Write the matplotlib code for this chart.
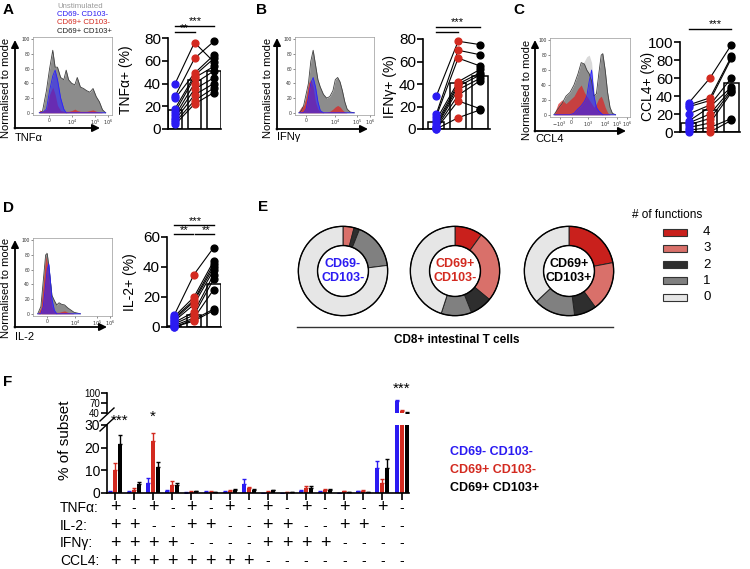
import numpy as np
import matplotlib
matplotlib.use('Agg')
import matplotlib.pyplot as plt
from matplotlib.patches import Rectangle

plt.rcParams['font.family'] = ['Liberation Sans', 'DejaVu Sans']

BLUE = '#2b1bf2'
RED = '#d32a20'
W, H = 750, 569

# ---- panels A-D: paired donor values (blue, red, black) and bar heights
tnf_blue = [40, 29, 27, 18, 15, 12, 10, 8, 6, 4]
tnf_red = [76, 62, 49, 47, 45, 40, 35, 30, 25, 22]
tnf_black = [59, 77, 65, 62, 55, 51, 45, 40, 36, 32]
tnf_bars = [17, 43, 51]

ifn_blue = [29, 13, 11, 8, 5, 3, 2, 1, 0, 0]
ifn_red = [78, 70, 63, 42, 40, 38, 35, 30, 25, 10]
ifn_black = [75, 66, 56, 53, 50, 48, 45, 43, 18, 17]
ifn_bars = [6, 41, 47]

ccl4_blue = [32, 30, 28, 20, 12, 10, 8, 5, 2, 0]
ccl4_red = [60, 38, 35, 30, 28, 20, 15, 10, 5, 0]
ccl4_black = [97, 84, 82, 60, 50, 48, 46, 44, 15, 13]
ccl4_bars = [10, 25, 54]

il2_blue = [8, 7, 6, 5, 4, 3, 2, 1, 0, 0]
il2_red = [35, 20, 18, 17, 15, 10, 8, 6, 5, 4]
il2_black = [53, 44, 42, 40, 38, 35, 32, 25, 12, 11]
il2_bars = [1, 8, 29]

# ---- flow histograms (x as fraction of plot width, y = % of mode)
tnf_hx = [0.08, 0.12, 0.17, 0.21, 0.25, 0.28, 0.31, 0.35, 0.39, 0.42, 0.45, 0.49,
          0.53, 0.56, 0.6, 0.64, 0.68, 0.72, 0.76, 0.8, 0.84, 0.88, 0.92]
tnf_unst = [0, 2, 10, 40, 60, 55, 35, 15, 5, 2, 0, 0, 0, 0, 0, 0, 0, 0, 0, 0, 0, 0, 0]
tnf_gray = [0, 2, 30, 60, 85, 62, 62, 48, 45, 58, 45, 40, 38, 48, 35, 33, 30, 28, 33, 22, 15, 4, 0]
tnf_redh = [4, 2, 5, 25, 35, 25, 10, 3, 2, 2, 2, 3, 5, 3, 2, 2, 2, 3, 4, 2, 1, 0, 0]
tnf_blueh = [0, 0, 5, 30, 50, 58, 45, 20, 5, 0, 0, 0, 0, 0, 0, 0, 0, 0, 0, 0, 0, 0, 0]

ifn_hx = [0.05, 0.08, 0.11, 0.14, 0.17, 0.2, 0.23, 0.26, 0.29, 0.32, 0.36, 0.4,
          0.44, 0.48, 0.51, 0.54, 0.57, 0.6, 0.63, 0.66, 0.7, 0.75]
ifn_unst = [0, 2, 5, 15, 35, 50, 45, 25, 8, 2, 0, 0, 0, 0, 0, 0, 0, 0, 0, 0, 0, 0]
ifn_gray = [0, 3, 10, 25, 40, 70, 85, 65, 45, 35, 25, 20, 22, 30, 45, 48, 42, 30, 15, 5, 1, 0]
ifn_redh = [3, 8, 10, 20, 40, 45, 35, 15, 5, 2, 1, 1, 2, 5, 8, 10, 8, 4, 1, 0, 0, 0]
ifn_blueh = [0, 0, 0, 5, 20, 40, 48, 35, 15, 3, 0, 0, 0, 0, 0, 0, 0, 0, 0, 0, 0, 0]

ccl4_hx = [0.05, 0.1, 0.15, 0.2, 0.25, 0.3, 0.35, 0.39, 0.43, 0.46, 0.49, 0.52,
           0.55, 0.58, 0.61, 0.64, 0.66, 0.69, 0.72, 0.75, 0.78, 0.82]
ccl4_unst = [0, 5, 12, 22, 28, 38, 50, 65, 72, 78, 80, 70, 35, 20, 10, 5, 3, 2, 0, 0, 0, 0]
ccl4_gray = [0, 8, 15, 25, 30, 40, 55, 70, 68, 60, 55, 45, 25, 28, 55, 80, 82, 60, 30, 10, 2, 0]
ccl4_redh = [0, 15, 20, 15, 20, 25, 35, 40, 30, 25, 20, 15, 10, 15, 22, 25, 20, 10, 3, 0, 0, 0]
ccl4_blueh = [0, 0, 0, 0, 0, 2, 8, 12, 18, 25, 45, 60, 25, 10, 5, 2, 0, 0, 0, 0, 0, 0]

il2_hx = [0.06, 0.1, 0.13, 0.16, 0.18, 0.2, 0.22, 0.24, 0.27, 0.3, 0.33, 0.36,
          0.4, 0.44, 0.48, 0.52, 0.56, 0.6]
il2_unst = [0, 12, 50, 85, 80, 60, 35, 15, 5, 2, 1, 0, 0, 0, 0, 0, 0, 0]
il2_gray = [0, 10, 45, 80, 82, 65, 45, 25, 18, 12, 15, 13, 12, 8, 5, 2, 1, 0]
il2_redh = [0, 8, 40, 78, 70, 50, 25, 10, 3, 2, 2, 3, 4, 2, 1, 0, 0, 0]
il2_blueh = [0, 0, 10, 40, 60, 68, 45, 20, 5, 0, 0, 0, 0, 0, 0, 0, 0, 0]

# ---- panel E: % of cells with 4,3,2,1,0 functions
func_labels = ['4', '3', '2', '1', '0']
func_colors = ['#c9201c', '#d9706a', '#2e2e2e', '#808080', '#e6e6e6']
donut_dn = [0, 4, 2, 17, 77]
donut_dp = [10, 26, 8, 11, 45]
donut_pp = [22, 18, 8, 15, 37]

# ---- panel F: Boolean combinations, mean and SEM
f_blue = [0.5, 0.5, 4.3, 1.0, 0.2, 0.5, 0.5, 4.0, 0.1, 0.1, 1.0, 0.5, 0.1, 0.8, 11, 76]
f_blue_err = [0.2, 0.2, 2.5, 0.3, 0.1, 0.3, 0.2, 2.0, 0.1, 0.1, 0.3, 0.2, 0.1, 0.2, 3.0, 2.5]
f_red = [10, 1.5, 23, 3.5, 0.5, 0.5, 1.0, 2.0, 0.5, 0.3, 2.0, 1.3, 0.7, 1.0, 4.5, 47]
f_red_err = [3.2, 0.8, 3.5, 2.0, 0.3, 0.3, 0.3, 0.8, 0.2, 0.1, 1.0, 0.5, 0.2, 0.5, 1.6, 2.5]
f_black = [21.5, 4.0, 11.3, 3.5, 0.8, 0.3, 1.5, 1.5, 1.2, 0.5, 2.0, 1.5, 0.3, 0.3, 11, 41]
f_black_err = [4.0, 1.0, 2.3, 1.0, 0.2, 0.1, 0.3, 0.3, 0.3, 0.1, 1.0, 0.3, 0.1, 0.1, 3.8, 1.0]
tnf_signs = ['+', '-'] * 8
il2_signs = ['+', '+', '-', '-'] * 4
ifn_signs = ['+', '+', '+', '+', '-', '-', '-', '-'] * 2
ccl4_signs = ['+'] * 8 + ['-'] * 8
subsets = ['CD69- CD103-', 'CD69+ CD103-', 'CD69+ CD103+']


def pxbox(x0, y0, x1, y1):
    return [x0 / W, 1 - y1 / H, (x1 - x0) / W, (y1 - y0) / H]


fig = plt.figure(figsize=(7.5, 5.69), dpi=100)


def hist_panel(box, xs, unst, gray, red, blue, tpos, tlab):
    ax = fig.add_axes(pxbox(*box))
    ax.fill_between(xs, unst, color='#d9d9d9', lw=0)
    ax.fill_between(xs, gray, color='#8c8c8c', lw=0)
    ax.plot(xs, gray, color='#404040', lw=0.6)
    ax.fill_between(xs, red, color='#e02020', alpha=0.7, lw=0)
    ax.fill_between(xs, blue, color='#2a20ff', alpha=0.6, lw=0)
    ax.plot(xs, blue, color='#2a20ff', lw=0.6)
    ax.set_xlim(0, 1)
    ax.set_ylim(-3, 103)
    for s in ax.spines.values():
        s.set_linewidth(0.5)
        s.set_color('#999999')
    ax.set_yticks([0, 20, 40, 60, 80, 100])
    ax.set_xticks(tpos)
    ax.set_xticklabels(tlab)
    ax.tick_params(labelsize=3.5, length=1.5, width=0.4, pad=0.8, colors='#333333')


def dot_panel(box, xlim, ylim, yticks, blue, red, black, bars, bw):
    ax = fig.add_axes(pxbox(*box))
    ax.bar([0, 1, 2], bars, width=bw, color='white', edgecolor='black', lw=1.1, zorder=1)
    for b, r, k in zip(blue, red, black):
        ax.plot([0, 1, 2], [b, r, k], color='black', lw=0.8, zorder=2)
    ax.scatter([0] * len(blue), blue, s=24, color=BLUE, zorder=3, clip_on=False)
    ax.scatter([1] * len(red), red, s=24, color=RED, zorder=3, clip_on=False)
    ax.scatter([2] * len(black), black, s=24, color='black', zorder=3, clip_on=False)
    ax.set_xlim(*xlim)
    ax.set_ylim(*ylim)
    ax.set_yticks(yticks)
    ax.set_xticks([])
    ax.spines['top'].set_visible(False)
    ax.spines['right'].set_visible(False)
    ax.spines['left'].set_linewidth(1.2)
    ax.spines['bottom'].set_linewidth(1.2)
    ax.tick_params(axis='y', labelsize=11, length=4, width=1.2, pad=1)
    return ax


def sig(ax, x0, x1, y):
    ax.plot([x0, x1], [y, y], color='black', lw=1, clip_on=False)


# histograms
hist_panel((33, 37, 112, 115), tnf_hx, tnf_unst, tnf_gray, tnf_redh, tnf_blueh,
           [0.2, 0.49, 0.78, 0.95], ['0', r'$10^4$', r'$10^5$', r'$10^6$'])
hist_panel((295, 37, 374, 115), ifn_hx, ifn_unst, ifn_gray, ifn_redh, ifn_blueh,
           [0.14, 0.51, 0.78, 0.95], ['0', r'$10^4$', r'$10^5$', r'$10^6$'])
hist_panel((550, 38, 630, 117), ccl4_hx, ccl4_unst, ccl4_gray, ccl4_redh, ccl4_blueh,
           [0.12, 0.27, 0.48, 0.69, 0.84, 0.96],
           [r'$-10^3$', '0', r'$10^3$', r'$10^4$', r'$10^5$', r'$10^6$'])
hist_panel((33, 238, 112, 316), il2_hx, il2_unst, il2_gray, il2_redh, il2_blueh,
           [0.18, 0.53, 0.81, 0.97], ['0', r'$10^4$', r'$10^5$', r'$10^6$'])

# dot plots
axA = dot_panel((168, 38, 221, 129), (-0.37, 2.37), (0, 80), [0, 20, 40, 60, 80],
                tnf_blue, tnf_red, tnf_black, tnf_bars, 0.72)
axB = dot_panel((423, 39, 490, 129), (-0.6, 2.45), (0, 80), [0, 20, 40, 60, 80],
                ifn_blue, ifn_red, ifn_black, ifn_bars, 0.7)
axC = dot_panel((680, 42, 740, 132), (-0.4, 2.4), (0, 100), [0, 20, 40, 60, 80, 100],
                ccl4_blue, ccl4_red, ccl4_black, ccl4_bars, 0.68)
axD = dot_panel((167, 237, 221, 327), (-0.37, 2.37), (0, 60), [0, 20, 40, 60],
                il2_blue, il2_red, il2_black, il2_bars, 0.72)
sig(axA, 0, 1, 85.5)
sig(axA, 0, 2, 90.5)
sig(axB, 0, 1, 86.2)
sig(axB, 0, 2, 90.7)
sig(axC, 0, 2, 114)
sig(axD, 0, 2, 68)
sig(axD, 0, 0.95, 62)
sig(axD, 1.05, 2, 62)

# donuts
for cx, vals, lab, col in [(343, donut_dn, 'CD69-\nCD103-', BLUE),
                           (455, donut_dp, 'CD69+\nCD103-', RED),
                           (569, donut_pp, 'CD69+\nCD103+', 'black')]:
    ax = fig.add_axes(pxbox(cx - 46, 225, cx + 46, 317))
    ax.pie(vals, colors=func_colors, startangle=90, counterclock=False,
           wedgeprops=dict(width=0.43, edgecolor='#222222', lw=0.7))
    ax.add_patch(plt.Circle((0, 0), 1, fill=False, ec='black', lw=1))
    ax.add_patch(plt.Circle((0, 0), 0.57, fill=False, ec='black', lw=1))
    ax.set_xlim(-1.03, 1.03)
    ax.set_ylim(-1.03, 1.03)
    ax.set_aspect('equal')
    ax.axis('off')
    ax.text(0, 0, lab, color=col, ha='center', va='center', fontsize=9,
            fontweight='bold', linespacing=1.15)

# panel F: broken y axis
gx = np.arange(16)
xl = (-0.42, 15.39)
offs = [-0.26, 0, 0.26]
series = [(f_blue, f_blue_err, BLUE), (f_red, f_red_err, RED), (f_black, f_black_err, 'black')]
axL = fig.add_axes(pxbox(107, 425, 409, 493))
axU = fig.add_axes(pxbox(107, 393, 409, 413))
for ax in (axL, axU):
    for (vals, errs, c), o in zip(series, offs):
        ax.bar(gx + o, vals, width=0.21, color=c, lw=0)
        ax.errorbar(gx + o, vals, yerr=[np.zeros(16), errs], fmt='none', ecolor=c,
                    elinewidth=1, capsize=1.5, capthick=1)
    ax.set_xlim(*xl)
    ax.spines['top'].set_visible(False)
    ax.spines['right'].set_visible(False)
    ax.spines['left'].set_linewidth(1.2)
    ax.tick_params(axis='y', labelsize=10, length=4, width=1.2, pad=1)
axL.set_ylim(0, 30)
axL.set_yticks([0, 10, 20, 30])
axL.set_xticks(gx)
axL.set_xticklabels([])
axL.spines['bottom'].set_linewidth(1.2)
axL.tick_params(axis='x', length=5, width=1.2)
axU.set_ylim(40, 100)
axU.set_yticks([40, 70, 100])
axU.tick_params(axis='y', labelsize=7, pad=1)
axU.set_xticks([])
axU.spines['bottom'].set_visible(False)

# overlay for labels, arrows and annotations in pixel coordinates
ov = fig.add_axes([0, 0, 1, 1])
ov.set_xlim(0, W)
ov.set_ylim(H, 0)
ov.axis('off')
ov.patch.set_alpha(0)

for t, x, y in [('A', 3, 10), ('B', 256, 10), ('C', 513, 10), ('D', 3, 208),
                ('E', 258, 207), ('F', 3, 382)]:
    ov.text(x, y, t, fontsize=11, fontweight='bold', va='center', ha='left')

for i, (t, c) in enumerate([('Unstimulated', '#999999'), ('CD69- CD103-', BLUE),
                            ('CD69+ CD103-', RED), ('CD69+ CD103+', '#222222')]):
    ov.text(57, 6 + 8.4 * i, t, color=c, fontsize=5.6, va='center')

# histogram arrows and labels
for ax_x, y_bot, x_end, y_top, lab, ly, ncx in [(15, 128, 100, 40, 'TNF\u03b1', 138, 6),
                                              (277, 129, 368, 38, 'IFN\u03b3', 137, 268),
                                              (535, 131, 626, 40, 'CCL4', 139, 527),
                                              (15, 327, 107, 240, 'IL-2', 337, 6)]:
    ov.annotate('', xy=(ax_x, y_top), xytext=(ax_x, y_bot + 0.6),
                arrowprops=dict(arrowstyle='-|>', lw=1.3, color='black', mutation_scale=11,
                                shrinkA=0, shrinkB=0))
    ov.annotate('', xy=(x_end, y_bot), xytext=(ax_x - 0.6, y_bot),
                arrowprops=dict(arrowstyle='-|>', lw=1.3, color='black', mutation_scale=11,
                                shrinkA=0, shrinkB=0))
    ov.text(ax_x, ly, lab, fontsize=8, ha='left', va='center')
    ov.text(ncx, (y_bot + y_top) / 2 + 4, 'Normalised to mode', fontsize=8,
            rotation=90, ha='center', va='center')

# dot-plot y labels
for t, x, y in [('TNF\u03b1+ (%)', 126, 80), ('IFN\u03b3+ (%)', 390, 86),
                ('CCL4+ (%)', 648, 86), ('IL-2+ (%)', 130, 282)]:
    ov.text(x, y, t, fontsize=10, rotation=90, ha='center', va='center')

# significance stars (pixel positions)
for t, x, y in [('***', 195, 21.5), ('**', 184, 28), ('***', 457, 22.5),
                ('***', 715, 24.5), ('***', 195, 221), ('**', 184, 230), ('**', 206.5, 230)]:
    ov.text(x, y, t, fontsize=8, ha='center', va='center')

# donut legend
ov.text(632, 215, '# of functions', fontsize=8.5, va='center')
for i, (lab, c) in enumerate(zip(func_labels, func_colors)):
    y = 232 + 16.3 * i
    ov.add_patch(Rectangle((663, y - 3.5), 24, 7, facecolor=c, edgecolor='#333333', lw=0.8))
    ov.text(703, y, lab, fontsize=9.5, va='center')
ov.plot([297, 613], [327, 327], color='#333333', lw=1)
ov.text(457, 340, 'CD8+ intestinal T cells', fontsize=8.5, fontweight='bold',
        ha='center', va='center')

# panel F extras
ov.text(65, 440, '% of subset', fontsize=11, rotation=90, ha='center', va='center')
ov.plot([100, 114], [421, 408], color='black', lw=1)
ov.plot([100, 114], [431, 418], color='black', lw=1)
for t, x, y in [('***', 120, 421), ('*', 153, 417), ('***', 402, 389)]:
    ov.text(x, y, t, fontsize=11, ha='center', va='center')
for row, (lab, signs) in enumerate([('TNF\u03b1:', tnf_signs), ('IL-2:', il2_signs),
                                    ('IFN\u03b3:', ifn_signs), ('CCL4:', ccl4_signs)]):
    y = 508 + 17.7 * row
    ov.text(60, y, lab, fontsize=10, va='center')
    for i, s in enumerate(signs):
        x = 115 + 19.1 * i
        ov.text(x, y, s, fontsize=13 if s == '+' else 10, ha='center', va='center')
for i, (t, c) in enumerate(zip(subsets, [BLUE, RED, 'black'])):
    ov.text(450, 452 + 18 * i, t, color=c, fontsize=9, fontweight='bold', va='center')

fig.savefig('out.png', dpi=100)
